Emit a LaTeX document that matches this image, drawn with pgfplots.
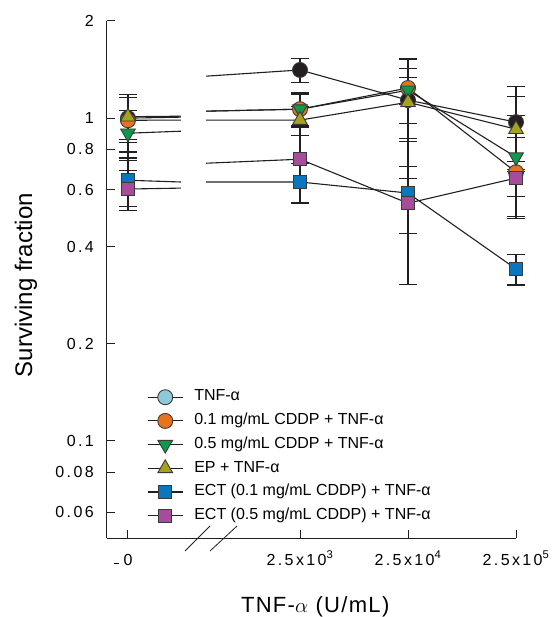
\documentclass[border=0pt]{standalone}
\usepackage{fontspec}
\setmainfont{Liberation Sans}
\newfontfamily\tickfont[LetterSpace=15]{Liberation Sans}
\newfontfamily\labfont[LetterSpace=6]{Liberation Sans}
\usepackage{pgfplots}
\pgfplotsset{compat=1.18}

\definecolor{ink}{HTML}{231F20}
\definecolor{edge}{HTML}{3A3A3A}
\definecolor{tnfblue}{HTML}{8DC9D9}
\definecolor{orng}{HTML}{E8731E}
\definecolor{grn}{HTML}{0E9A4A}
\definecolor{olv}{HTML}{A7A21E}
\definecolor{ectblue}{HTML}{0B75BE}
\definecolor{ectmag}{HTML}{A54C9B}

% x positions: 0 -> 1.407, 2.5x10^3 -> 3, 2.5x10^4 -> 4, 2.5x10^5 -> 5
% the connecting lines are broken at the axis break (1.898 .. 2.130)
\pgfplotsset{
  linkline/.style={forget plot, ink, line width=1.1pt, no marks, unbounded coords=jump},
  pts/.style={forget plot, only marks,
    error bars/y dir=both, error bars/y explicit,
    error bars/error bar style={ink, line width=1.2pt},
    error bars/error mark options={ink, rotate=90, mark size=9pt, line width=1.2pt}},
}

\begin{document}
\begin{tikzpicture}
\begin{axis}[
  name=ax, scale only axis, width=409pt, height=517pt,
  xmin=1.213, xmax=5, ymode=log, ymin=0.05, ymax=2,
  clip=false,
  axis x line=bottom, axis y line=left,
  axis line style={-, ink, line width=1pt},
  tick align=inside, major tick length=8pt, tick style={ink, line width=1pt},
  xtick={1.407,3,4,5},
  xticklabels={{\llap{\rule[1pt]{5pt}{1.2pt}\hspace{5pt}}0},
    2.5x10\textsuperscript{3}, 2.5x10\textsuperscript{4}, 2.5x10\textsuperscript{5}},
  ytick={0.06,0.08,0.1,0.2,0.4,0.6,0.8,1,2},
  yticklabels={0.06,0.08,0.1,0.2,0.4,0.6,0.8,1,2},
  xminorticks=false, yminorticks=false,
  xticklabel style={font=\tickfont\fontsize{16}{19}\selectfont, anchor=base, inner sep=0pt, yshift=-27pt},
  yticklabel style={font=\tickfont\fontsize{16}{19}\selectfont, anchor=east, inner sep=0pt, xshift=-13pt},
  xlabel={TNF-$\alpha$ (U/mL)},
  xlabel style={font=\labfont\fontsize{22}{26}\selectfont, at={(axis description cs:0.509,-0.1335)}, anchor=center},
  ylabel={Surviving fraction},
  ylabel style={font=\fontsize{24}{28}\selectfont, at={(axis description cs:-0.198,0.489)}, anchor=center},
  legend cell align=left,
  legend style={draw=none, fill=none, at={(axis description cs:0.0978,0.2901)}, anchor=north west,
    inner sep=0pt, row sep=5.7pt, font=\fontsize{16}{18}\selectfont,
    nodes={inner sep=0pt, text height=11pt, text depth=3.5pt},
    /tikz/every odd column/.append style={column sep=11pt}},
  legend image code/.code={
    \draw[mark repeat=2, mark phase=2] plot coordinates {(0pt,0pt) (17.5pt,0pt) (35pt,0pt)};
    \path[draw=none, fill=none] (0pt,-9pt) rectangle (35pt,9pt);},
]

% connecting lines
\addplot[linkline] coordinates {(1.407,1.000) (1.898,1.007) (2,nan) (2.130,1.349) (3,1.410) (4,1.137) (5,0.972)};
\addplot[linkline] coordinates {(1.407,0.985) (1.898,0.986) (2,nan) (2.130,1.051) (3,1.066) (4,1.240) (5,0.680)};
\addplot[linkline] coordinates {(1.407,0.898) (1.898,0.911) (2,nan) (2.130,1.051) (3,1.066) (4,1.220) (5,0.757)};
\addplot[linkline] coordinates {(1.407,1.010) (1.898,1.014) (2,nan) (2.130,0.986) (3,0.986) (4,1.120) (5,0.924)};
\addplot[linkline] coordinates {(1.407,0.642) (1.898,0.634) (2,nan) (2.130,0.634) (3,0.634) (4,0.586) (5,0.341)};
\addplot[linkline] coordinates {(1.407,0.603) (1.898,0.607) (2,nan) (2.130,0.725) (3,0.746) (4,0.545) (5,0.652)};

% means with error bars
\addplot[pts, mark=*, mark size=7.5pt, mark options={draw=edge, fill=ink, line width=0.9pt}]
  coordinates {(1.407,1.000) +- (0,0.16) (3,1.410) +- (0,0.12) (4,1.137) +- (0,0.29) (5,0.972) +- (0,0.28)};
\addplot[pts, mark=*, mark size=7.5pt, mark options={draw=edge, fill=orng, line width=0.9pt}]
  coordinates {(1.407,0.985) +- (0,0.20) (3,1.066) +- (0,0.12) (4,1.240) +- (0,0.28) (5,0.680) +- (0,0.19)};
\addplot[pts, mark=triangle*, mark size=8.5pt, mark options={draw=edge, fill=grn, line width=0.9pt, rotate=180}]
  coordinates {(1.407,0.898) +- (0,0.16) (3,1.066) +- (0,0.13) (4,1.220) +- (0,0.12) (5,0.757) +- (0,0.26)};
\addplot[pts, mark=triangle*, mark size=8.5pt, mark options={draw=edge, fill=olv, line width=0.9pt}]
  coordinates {(1.407,1.010) +- (0,0.15) (3,0.986) +- (0,0.10) (4,1.120) +- (0,0.41) (5,0.924) +- (0,0.24)};
\addplot[pts, mark=square*, mark size=6.5pt, mark options={draw=edge, fill=ectblue, line width=0.9pt}]
  coordinates {(1.407,0.642) +- (0,0.11) (3,0.634) +- (0,0.09) (4,0.586) +- (0,0.28) (5,0.341) +- (0,0.037)};
\addplot[pts, mark=square*, mark size=6.5pt, mark options={draw=edge, fill=ectmag, line width=0.9pt}]
  coordinates {(1.407,0.603) +- (0,0.085) (3,0.746) +- (0,0.20) (4,0.545) +- (0,0.105) (5,0.652) +- (0,0.08)};

% legend
\addlegendimage{ink, line width=1.1pt, mark=*, mark size=7.5pt, mark options={draw=edge, fill=tnfblue, line width=0.9pt}}
\addlegendentry{TNF-α}
\addlegendimage{ink, line width=1.1pt, mark=*, mark size=7.5pt, mark options={draw=edge, fill=orng, line width=0.9pt}}
\addlegendentry{0.1 mg/mL CDDP + TNF-α}
\addlegendimage{ink, line width=1.1pt, mark=triangle*, mark size=8.5pt, mark options={draw=edge, fill=grn, line width=0.9pt, rotate=180}}
\addlegendentry{0.5 mg/mL CDDP + TNF-α}
\addlegendimage{ink, line width=1.1pt, mark=triangle*, mark size=8.5pt, mark options={draw=edge, fill=olv, line width=0.9pt}}
\addlegendentry{EP + TNF-α}
\addlegendimage{ink, line width=1.1pt, mark=square*, mark size=6.5pt, mark options={draw=edge, fill=ectblue, line width=0.9pt}}
\addlegendentry{ECT (0.1 mg/mL CDDP) + TNF-α}
\addlegendimage{ink, line width=1.1pt, mark=square*, mark size=6.5pt, mark options={draw=edge, fill=ectmag, line width=0.9pt}}
\addlegendentry{ECT (0.5 mg/mL CDDP) + TNF-α}

% axis break marks
\draw[ink, line width=0.8pt] ([xshift=-12.5pt,yshift=-13pt]axis cs:2.051,0.05) -- ([xshift=12.5pt,yshift=12pt]axis cs:2.051,0.05);
\draw[ink, line width=0.8pt] ([xshift=-13.5pt,yshift=-13pt]axis cs:2.292,0.05) -- ([xshift=13.5pt,yshift=12pt]axis cs:2.292,0.05);
\end{axis}
\pgfresetboundingbox
\path ([xshift=-107pt,yshift=-79pt]ax.south west) rectangle ([xshift=38pt,yshift=21pt]ax.north east);
\end{tikzpicture}
\end{document}
